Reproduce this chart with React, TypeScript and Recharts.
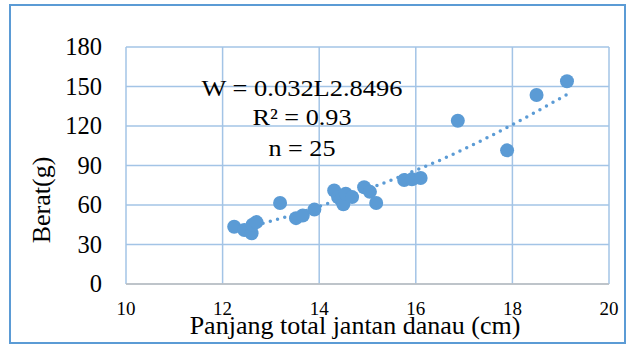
import { ComposedChart, Scatter, Line, XAxis, YAxis, CartesianGrid } from 'recharts'

const lengths = [12.24, 12.45, 12.6, 12.62, 12.7, 13.19, 13.52, 13.66, 13.9, 14.31, 14.39, 14.45, 14.5, 14.55, 14.68, 14.93, 15.05, 15.18, 15.76, 15.92, 16.1, 16.87, 17.89, 18.5, 19.13]
const weights = [43.5, 41, 38.5, 45, 47, 61.5, 50, 52, 56.5, 71, 66, 64, 60.5, 68.5, 66, 73.5, 70, 61.5, 79, 79.5, 80.5, 124, 101.5, 143.5, 154]

// dotted power trendline
const trendX = [12.24, 12.7, 13, 13.5, 14, 14.5, 15, 15.5, 16, 16.5, 17, 17.5, 18, 18.5, 19.13]
const trendY = [40, 44.8, 47.8, 53, 59, 65, 72, 79, 86.4, 94, 102.6, 111.5, 121, 131, 144]

const xTicks = [10, 12, 14, 16, 18, 20]
const yTicks = [0, 30, 60, 90, 120, 150, 180]

const points = lengths.map((x, i) => ({ x, y: weights[i] }))
const trend = trendX.map((x, i) => ({ x, y: trendY[i] }))

const BLUE = '#5b9bd5'
const SERIF = { fontFamily: "'Liberation Serif', 'DejaVu Serif', serif" }

const XTick = (props: any) => {
  const { x, payload } = props
  return (
    <text x={x} y={315} textAnchor="middle" style={SERIF} fontSize={19} fill="#000">
      {payload.value}
    </text>
  )
}

const YTick = (props: any) => {
  const { y, payload } = props
  return (
    <text x={102} y={y + 8} textAnchor="end" style={SERIF} fontSize={24.5} fill="#000">
      {payload.value}
    </text>
  )
}

const Dot = (props: any) => <circle cx={props.cx} cy={props.cy} r={7} fill={BLUE} />

export default function App() {
  return (
    <div style={{ position: 'absolute', left: 0, top: 0, width: 627, height: 345, background: '#fff' }}>
      <div
        style={{
          position: 'absolute',
          left: 9,
          top: 4,
          width: 613,
          height: 336,
          border: `2px solid ${BLUE}`,
        }}
      />
      <ComposedChart
        width={627}
        height={345}
        margin={{ top: 47, right: 18, bottom: 0, left: 0 }}
        style={{ position: 'absolute', left: 0, top: 0 }}
      >
        <CartesianGrid stroke="#a3c4e6" strokeWidth={1.5} />
        <XAxis
          type="number"
          dataKey="x"
          domain={[10, 20]}
          ticks={xTicks}
          height={61}
          tick={<XTick />}
          tickLine={false}
          axisLine={{ stroke: '#bfbfbf', strokeWidth: 1.5 }}
        />
        <YAxis
          type="number"
          dataKey="y"
          domain={[0, 180]}
          ticks={yTicks}
          width={126}
          tick={<YTick />}
          tickLine={false}
          axisLine={false}
        />
        <Line
          data={trend}
          dataKey="y"
          type="monotone"
          stroke={BLUE}
          strokeWidth={3.5}
          strokeDasharray="0 7.5"
          strokeLinecap="round"
          dot={false}
          activeDot={false}
          isAnimationActive={false}
        />
        <Scatter data={points} dataKey="y" shape={<Dot />} isAnimationActive={false} />
      </ComposedChart>
      <svg width={627} height={345} style={{ position: 'absolute', left: 0, top: 0, pointerEvents: 'none' }}>
        <g style={SERIF} fill="#000" textAnchor="middle">
          <text x={302} y={96} fontSize={23} textLength={201} lengthAdjust="spacingAndGlyphs">W = 0.032L2.8496</text>
          <text x={302} y={125} fontSize={23} textLength={99} lengthAdjust="spacingAndGlyphs">R² = 0.93</text>
          <text x={302} y={156} fontSize={23} textLength={67} lengthAdjust="spacingAndGlyphs">n = 25</text>
          <text x={355} y={334} fontSize={26}>Panjang total jantan danau (cm)</text>
          <text x={0} y={0} fontSize={26} transform="translate(50,200) rotate(-90)">Berat(g)</text>
        </g>
      </svg>
    </div>
  )
}
